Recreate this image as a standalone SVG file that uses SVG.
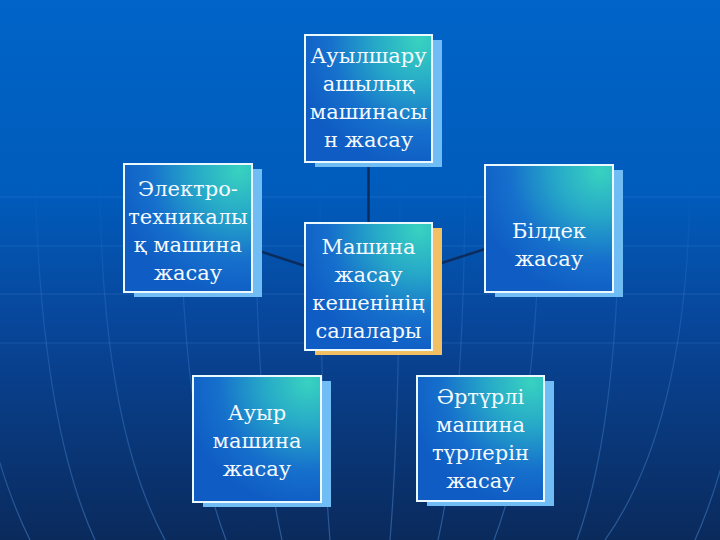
<svg xmlns="http://www.w3.org/2000/svg" width="720" height="540" viewBox="0 0 720 540">
  <defs>
    <linearGradient id="bg" x1="0" y1="0" x2="0" y2="1">
      <stop offset="0" stop-color="#0064c8"/>
      <stop offset="0.35" stop-color="#005cbc"/>
      <stop offset="0.6" stop-color="#08469a"/>
      <stop offset="1" stop-color="#0a2a5c"/>
    </linearGradient>
    <linearGradient id="mer" gradientUnits="userSpaceOnUse" x1="0" y1="180" x2="0" y2="540">
      <stop offset="0" stop-color="#4a90e0" stop-opacity="0"/>
      <stop offset="0.3" stop-color="#4a90e0" stop-opacity="0.22"/>
      <stop offset="1" stop-color="#5aa0f0" stop-opacity="0.4"/>
    </linearGradient>
    <radialGradient id="boxfill" cx="0.9" cy="0.05" r="1.0" fx="0.9" fy="0.05">
      <stop offset="0" stop-color="#38d2c0"/>
      <stop offset="0.35" stop-color="#26a8c8"/>
      <stop offset="0.7" stop-color="#1670cc"/>
      <stop offset="1" stop-color="#0f5cc4"/>
    </radialGradient>
    <style>
      .grid { fill: none; stroke: url(#mer); stroke-width: 1.2; }
      .hline { stroke: #4a8ad8; stroke-opacity: 0.28; stroke-width: 1; }
      .conn { stroke: #0b2c5c; stroke-width: 2.5; fill: none; }
      .box { fill: url(#boxfill); stroke: #eaf8ff; stroke-width: 2; }
      .shadow { fill: #70bdf5; }
      .shadow-o { fill: #f2c062; }
      .lbl { font-family: "DejaVu Serif", "Liberation Serif", serif; font-size: 21px; fill: #f4faff; text-anchor: middle; }
    </style>
  </defs>

  <rect x="0" y="0" width="720" height="540" fill="url(#bg)"/>

  <g id="background-grid">
    <line class="hline" x1="0" y1="197" x2="720" y2="197"/>
    <line class="hline" x1="0" y1="246" x2="720" y2="246"/>
    <line class="hline" x1="0" y1="294" x2="720" y2="294"/>
    <line class="hline" x1="0" y1="343" x2="720" y2="343"/>
    <path class="grid" d="M320,170 Q320,420 330,540"/>
    <path class="grid" d="M400,170 Q400,420 390,540"/>
    <path class="grid" d="M255,170 Q255,420 282,540"/>
    <path class="grid" d="M465,170 Q465,420 438,540"/>
    <path class="grid" d="M180,170 Q180,420 226,540"/>
    <path class="grid" d="M540,170 Q540,420 494,540"/>
    <path class="grid" d="M100,170 Q100,420 165,540"/>
    <path class="grid" d="M620,170 Q620,420 577,540"/>
    <path class="grid" d="M35,170 Q40,420 95,540"/>
    <path class="grid" d="M690,170 Q690,420 605,540"/>
    <path class="grid" d="M-40,250 Q-20,440 30,540"/>
    <path class="grid" d="M760,250 Q740,440 695,540"/>
  </g>

  <g id="connectors">
    <line class="conn" x1="368.5" y1="286.5" x2="368.5" y2="98.5"/>
    <line class="conn" x1="368.5" y1="286.5" x2="188" y2="228"/>
    <line class="conn" x1="368.5" y1="286.5" x2="549" y2="228.5"/>
  </g>

  <g id="node-top">
    <rect class="shadow" x="315" y="40" width="127" height="127"/>
    <rect class="box" x="305" y="35" width="127" height="127"/>
    <text class="lbl" x="368.5" y="63">Ауылшару</text>
    <text class="lbl" x="368.5" y="91">ашылық</text>
    <text class="lbl" x="368.5" y="119">машинасы</text>
    <text class="lbl" x="368.5" y="147">н жасау</text>
  </g>

  <g id="node-left">
    <rect class="shadow" x="134" y="169" width="128" height="128"/>
    <rect class="box" x="124" y="164" width="128" height="128"/>
    <text class="lbl" x="188" y="196">Электро-</text>
    <text class="lbl" x="188" y="224">техникалы</text>
    <text class="lbl" x="188" y="252">қ машина</text>
    <text class="lbl" x="188" y="280">жасау</text>
  </g>

  <g id="node-right">
    <rect class="shadow" x="495" y="170" width="128" height="127"/>
    <rect class="box" x="485" y="165" width="128" height="127"/>
    <text class="lbl" x="549" y="238">Білдек</text>
    <text class="lbl" x="549" y="266">жасау</text>
  </g>

  <g id="node-center">
    <rect class="shadow-o" x="315" y="228" width="127" height="127"/>
    <rect class="box" x="305" y="223" width="127" height="127"/>
    <text class="lbl" x="368.5" y="254">Машина</text>
    <text class="lbl" x="368.5" y="282">жасау</text>
    <text class="lbl" x="368.5" y="310">кешенінің</text>
    <text class="lbl" x="368.5" y="338">салалары</text>
  </g>

  <g id="node-bottom-left">
    <rect class="shadow" x="203" y="381" width="128" height="126"/>
    <rect class="box" x="193" y="376" width="128" height="126"/>
    <text class="lbl" x="257" y="420">Ауыр</text>
    <text class="lbl" x="257" y="448">машина</text>
    <text class="lbl" x="257" y="476">жасау</text>
  </g>

  <g id="node-bottom-right">
    <rect class="shadow" x="427" y="381" width="127" height="125"/>
    <rect class="box" x="417" y="376" width="127" height="125"/>
    <text class="lbl" x="480.5" y="404">Әртүрлі</text>
    <text class="lbl" x="480.5" y="432">машина</text>
    <text class="lbl" x="480.5" y="460">түрлерін</text>
    <text class="lbl" x="480.5" y="488">жасау</text>
  </g>
</svg>
